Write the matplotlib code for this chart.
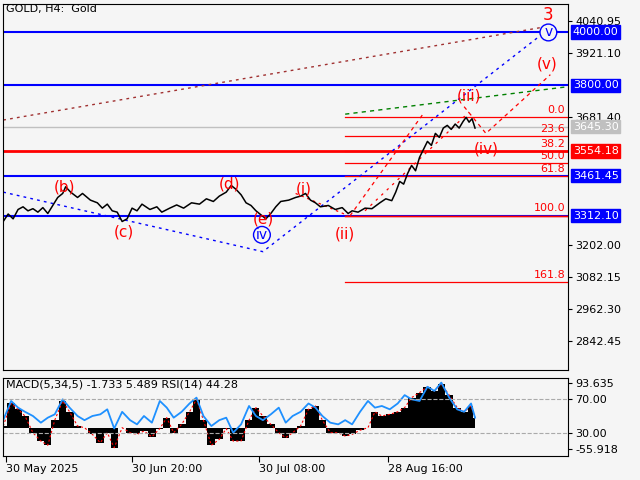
import matplotlib
matplotlib.use("Agg")
import matplotlib.pyplot as plt
import numpy as np

# price path waypoints (bar position, price)
bar_x = [0, 5, 10, 15, 20, 25, 30, 35, 40, 45, 50, 55, 60, 63, 68, 75, 80, 88, 95, 100, 105, 110, 115, 120,
         125, 130, 135, 140, 148, 155, 160, 168, 175, 182, 190, 198, 205, 212, 218, 225, 230, 235, 240, 245,
         250, 255, 260, 265, 270, 275, 280, 288, 295, 300, 305, 310, 315, 320, 328, 335, 342, 348, 352, 358,
         365, 372, 380, 386, 392, 396, 400, 404, 408, 412, 416, 420, 424, 428, 432, 436, 440, 444, 448, 452,
         456, 460, 464, 467, 470, 473, 476]
price = [3290, 3318, 3300, 3335, 3345, 3330, 3338, 3325, 3342, 3320, 3350, 3380, 3395, 3420, 3400, 3380, 3395,
         3370, 3360, 3340, 3355, 3330, 3325, 3290, 3300, 3340, 3330, 3355, 3335, 3345, 3325, 3340, 3352, 3340,
         3360, 3355, 3375, 3365, 3385, 3400, 3425, 3410, 3390, 3360, 3350, 3330, 3315, 3300, 3320, 3345, 3365,
         3370, 3380, 3385, 3395, 3370, 3360, 3345, 3350, 3335, 3342, 3320, 3330, 3325, 3340, 3338, 3360, 3375,
         3368, 3400, 3440, 3430, 3470, 3500, 3480, 3530, 3560, 3590, 3575, 3620, 3605, 3640, 3650, 3635, 3655,
         3640, 3665, 3680, 3662, 3675, 3640]

# fibonacci levels
fib_labels = ["0.0", "23.6", "38.2", "50.0", "61.8", "100.0", "161.8"]
fib_prices = [3681.4, 3610.0, 3554.2, 3509.0, 3461.5, 3312.1, 3063.0]

# horizontal levels (price, color)
levels = [(4000.00, "blue"), (3800.00, "blue"), (3554.18, "red"), (3461.45, "blue"), (3312.10, "blue")]
axis_ticks = [4040.95, 3921.10, 3681.40, 3202.00, 3082.15, 2962.30, 2842.45]
last_price = 3645.30

# wave labels
red_labels = [("(b)", 62, 3420), ("(c)", 122, 3250), ("(d)", 228, 3432), ("(e)", 262, 3300), ("(i)", 303, 3410),
              ("(ii)", 345, 3245), ("(iii)", 470, 3760), ("(iv)", 487, 3560), ("(v)", 549, 3880), ("3", 550, 4065)]
blue_labels = [("iv", 261, 3240), ("v", 550, 3998)]

# indicator panel (bar position, histogram, rsi)
ind_x = [0, 8, 15, 22, 30, 38, 45, 52, 60, 67, 75, 82, 90, 98, 105, 112, 120, 128, 135, 142, 150, 158, 165, 172,
         180, 188, 195, 202, 210, 218, 225, 232, 240, 248, 255, 262, 270, 278, 285, 292, 300, 308, 315, 322,
         330, 338, 345, 352, 360, 368, 375, 382, 390, 398, 405, 412, 420, 428, 435, 442, 450, 458, 465, 472, 476]
hist = [38, 65, 58, 50, 30, 20, 15, 45, 68, 55, 38, 36, 28, 18, 30, 12, 36, 30, 28, 32, 25, 35, 48, 30, 40, 55,
        70, 45, 15, 22, 35, 20, 20, 45, 60, 50, 40, 30, 24, 30, 38, 58, 62, 45, 30, 30, 26, 28, 33, 36, 55, 50,
        52, 55, 60, 72, 78, 85, 80, 88, 75, 60, 55, 62, 48]
rsi = [45, 68, 60, 55, 50, 42, 48, 52, 70, 60, 50, 45, 50, 52, 58, 35, 55, 45, 40, 50, 42, 68, 60, 48, 55, 65,
       72, 50, 38, 45, 48, 30, 40, 62, 50, 45, 52, 60, 42, 50, 55, 65, 60, 50, 42, 40, 45, 40, 55, 68, 60, 62,
       58, 65, 75, 70, 68, 85, 80, 90, 72, 58, 55, 65, 48]
ind_ticks = [89.4, 70.0, 30.0, 10.6]
ind_tick_labels = ["93.635", "70.00", "30.00", "-55.918"]
hist_base = 36.0

date_pos = [3, 130, 258, 388]
date_labels = ["30 May 2025", "30 Jun 20:00", "30 Jul 08:00", "28 Aug 16:00"]

plt.rcParams["font.family"] = "DejaVu Sans"
BG = "#f5f5f5"
fig = plt.figure(figsize=(6.4, 4.8), dpi=100, facecolor=BG)
ax = fig.add_axes([0.005, (480 - 370) / 480, 565 / 640, 366 / 480], facecolor=BG)
ax.set_xlim(0, 570)
ax.set_ylim(2733.8, 4104.6)

for p, c in levels:
    ax.axhline(p, color=c, lw=2 if c == "red" else 1.5, zorder=2)
ax.axhline(3312.1, xmin=345 / 570, color="red", lw=1, zorder=3)
ax.axhline(last_price, color="#c0c0c0", lw=1, zorder=1)
for lab, p in zip(fib_labels, fib_prices):
    ax.plot([345, 570], [p, p], color="red", lw=0.9, zorder=2)
    ax.text(567, p + 8, lab, color="red", fontsize=8, ha="right", va="bottom")

# trend lines
ax.plot([0, 545], [3670, 4018], color="#a03030", ls=(0, (2, 3)), lw=1)
ax.plot([345, 570], [3692, 3795], color="green", ls=(0, (3, 3)), lw=1)
ax.plot([0, 262, 550], [3400, 3177, 4010], color="blue", ls=(0, (2, 3)), lw=1)
ax.plot([465, 487, 552], [3720, 3620, 3840], color="red", ls=(0, (3, 3)), lw=0.9)
ax.plot([350, 425], [3312, 3700], color="red", ls=(0, (3, 3)), lw=0.9)
ax.plot([365, 470], [3330, 3700], color="red", ls=(0, (2, 4)), lw=0.9)
ax.plot([295, 348], [3395, 3312], color="red", ls=(0, (2, 3)), lw=0.9)

ax.plot(bar_x, price, color="black", lw=1.1, zorder=4)

for t, x, y in red_labels:
    ax.text(x, y, t, color="red", fontsize=11 if t != "3" else 12, ha="center", va="center", zorder=5)
for t, x, y in blue_labels:
    ax.text(x, y, t, color="blue", fontsize=10, ha="center", va="center", zorder=5,
            bbox=dict(boxstyle="circle,pad=0.1", fc=BG, ec="blue", lw=1))

ax.text(3, 4085, "GOLD, H4:  Gold", fontsize=8, va="center")

ax.yaxis.tick_right()
ax.set_yticks(axis_ticks)
ax.set_yticklabels([f"{t:.2f}" for t in axis_ticks], fontsize=8)
ax.tick_params(axis="y", length=3, pad=2)
ax.set_xticks([])
for p, c in levels:
    ax.text(1.008, p, f"{p:.2f}", transform=ax.get_yaxis_transform(), color="white", fontsize=8,
            va="center", bbox=dict(boxstyle="square,pad=0.15", fc=c, ec=c), zorder=6)
ax.text(1.008, last_price, f"{last_price:.2f}", transform=ax.get_yaxis_transform(), color="white",
        fontsize=8, va="center", bbox=dict(boxstyle="square,pad=0.15", fc="#c0c0c0", ec="#c0c0c0"))

ax2 = fig.add_axes([0.005, (480 - 456) / 480, 565 / 640, 78 / 480], facecolor=BG)
ax2.set_xlim(0, 570)
ax2.set_ylim(2.1, 95.5)
ax2.fill_between(ind_x, hist_base, hist, color="black", step="mid", lw=0)
ax2.plot(ind_x, hist, color="red", ls=(0, (2, 2)), lw=0.8)
ax2.plot(ind_x, rsi, color="#1e90ff", lw=1.3)
for v in (70, 30):
    ax2.axhline(v, color="#aaaaaa", ls="--", lw=0.8)
ax2.text(3, 88, "MACD(5,34,5) -1.733 5.489 RSI(14) 44.28", fontsize=8, va="center")
ax2.yaxis.tick_right()
ax2.set_yticks(ind_ticks)
ax2.set_yticklabels(ind_tick_labels, fontsize=8)
ax2.tick_params(axis="y", length=3, pad=2)
ax2.set_xticks(date_pos)
ax2.set_xticklabels(date_labels, fontsize=8, ha="left")
ax2.tick_params(axis="x", length=4, pad=2)

fig.savefig("out.png", dpi=100, facecolor=BG)
